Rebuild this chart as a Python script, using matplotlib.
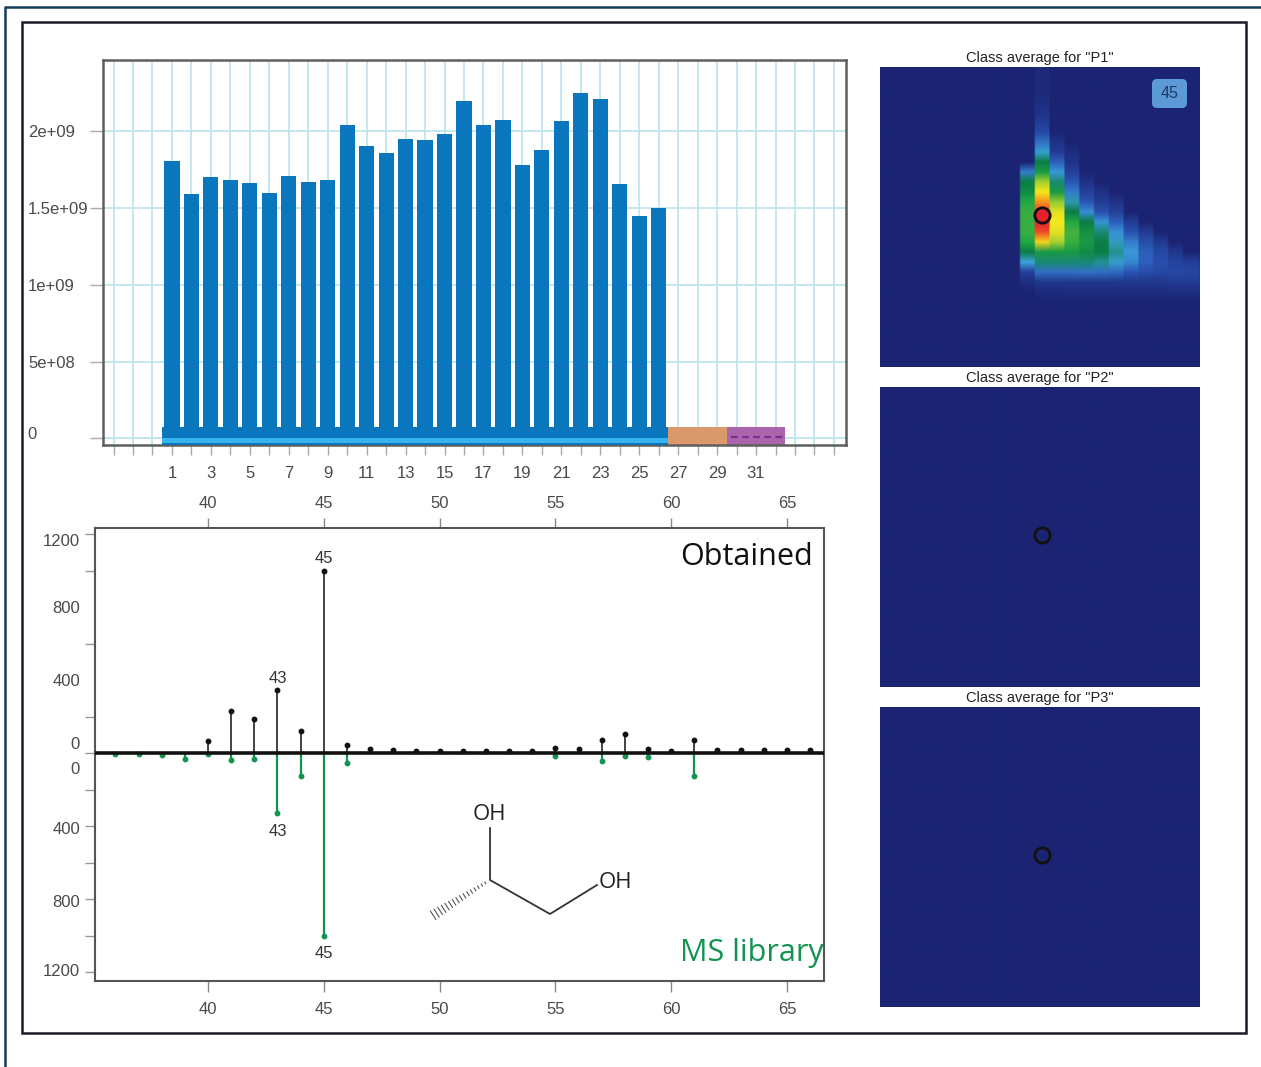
import numpy as np
import matplotlib
matplotlib.use('Agg')
import matplotlib.pyplot as plt
from matplotlib.colors import LinearSegmentedColormap
from matplotlib.lines import Line2D
from matplotlib.patches import FancyBboxPatch, Rectangle

W, H = 1261, 1067

# samples, top chart (units of 1e9)
samples = np.arange(1, 27)
intensity = [1.805, 1.59, 1.70, 1.68, 1.665, 1.595, 1.71, 1.67, 1.685, 2.04, 1.90, 1.86, 1.95,
             1.94, 1.98, 2.195, 2.04, 2.07, 1.78, 1.88, 2.065, 2.25, 2.21, 1.655, 1.45, 1.50]
group_edges = [0.5, 26.5, 29.5, 32.5]
group_colors = ['#0a76bd', '#d9996b', '#ab65ad']
y_ticks = [0, 5e8, 1e9, 1.5e9, 2e9]
y_tick_labels = ['', '5e+08', '1e+09', '1.5e+09', '2e+09']

# spectrum, m/z from 36 to 66
mz = np.arange(36, 67)
obtained = [0, 0, 0, 0, 65, 230, 186, 345, 120, 1000, 45, 20, 15, 12, 12, 12, 12, 12, 12, 28,
            22, 70, 105, 20, 12, 70, 14, 14, 14, 14, 14]
library = [5, 5, 10, 30, 5, 40, 35, 330, 125, 1000, 55, 0, 0, 0, 0, 0, 0, 0, 0, 15,
           0, 45, 15, 20, 0, 125, 0, 0, 0, 0, 0]

# class average P1, one list per column: (first row, values going down)
p1_columns = {
    10: (10, [.28, .45, .50, .60, .62, .62, .62, .60, .45, .35, .12, .04]),
    11: (0, [.03, .03, .03, .04, .06, .10, .15, .25, .36, .45, .55, .72, .80, .88, .97, 1.0, .95, .82, .55, .42, .25, .08, .03]),
    12: (7, [.06, .10, .22, .33, .42, .55, .70, .78, .80, .78, .72, .55, .42, .25, .08, .03]),
    13: (8, [.04, .06, .12, .20, .28, .38, .45, .60, .63, .62, .55, .42, .25, .08, .04]),
    14: (11, [.06, .12, .20, .31, .45, .52, .55, .50, .42, .26, .08, .04]),
    15: (12, [.06, .10, .18, .32, .42, .46, .45, .40, .25, .08, .04]),
    16: (13, [.06, .12, .22, .32, .37, .40, .36, .24, .08, .04]),
    17: (15, [.10, .18, .28, .33, .30, .20, .08, .04]),
    18: (16, [.10, .17, .22, .22, .17, .08, .04]),
    19: (17, [.09, .15, .17, .15, .08, .04]),
    20: (18, [.08, .13, .15, .10, .05]),
    21: (19, [.11, .14, .10, .05]),
    22: (19, [.08, .12, .09, .04]),
}
panel_names = ['P1', 'P2', 'P3']


def px_axes(left, top, right, bottom, **kw):
    return fig.add_axes([left / W, 1 - bottom / H, (right - left) / W, (bottom - top) / H], **kw)


plt.rcParams['font.family'] = ['Liberation Sans', 'DejaVu Sans']
fig = plt.figure(figsize=(W / 100, H / 100), dpi=100)
grey = '#4a4a4a'

# ---- sample bars
ax = px_axes(103, 60, 846, 445)
ax.bar(samples, np.array(intensity) * 1e9, width=0.78, color='#0a76bd', zorder=3)
for i, c in enumerate(group_colors):
    ax.bar((group_edges[i] + group_edges[i + 1]) / 2, 1.2e8, bottom=-4.5e7,
           width=group_edges[i + 1] - group_edges[i], color=c, zorder=2 if i else 3)
ax.bar(13.5, 3e7, bottom=-3e7, width=26, color='#36b4ee', zorder=4)
ax.hlines(0.8e7, 29.7, 32.4, color='#7a2f96', lw=1.6, ls=(0, (3, 2)), zorder=4)
ax.hlines(0, -2.6, 36, color='#bfe6ee', lw=1.2, zorder=1)
ax.set_xlim(-2.54, 35.62)
ax.set_ylim(-4.3e7, 2.463e9)
ax.set_xticks(np.arange(-2, 36))
ax.set_xticklabels([str(v) if 0 < v < 32 and v % 2 else '' for v in range(-2, 36)])
ax.set_yticks(y_ticks)
ax.set_yticklabels(y_tick_labels)
for lab in ax.get_yticklabels():
    lab.set_ha('left')
ax.grid(True, color='#bfe6ee', lw=1.3, zorder=0)
ax.set_axisbelow(True)
ax.tick_params(axis='x', length=7, width=1, color='#aaaaaa', labelcolor=grey, labelsize=12, pad=8)
ax.tick_params(axis='y', length=9.4, width=1, color='#aaaaaa', labelcolor=grey, labelsize=12, pad=44.6)
for s in ax.spines.values():
    s.set_color('#5e5e5e')
    s.set_linewidth(1.8)
ax.text(-6.44, 2.3e7, '0', color=grey, fontsize=12, ha='left', va='center', clip_on=False)

# ---- mirror spectrum
ax2 = px_axes(95, 528, 824, 981)
obt = np.array(obtained)
lib = np.array(library)
ax2.vlines(mz, 0, obt, color='#222222', lw=1.2, zorder=3)
ax2.vlines(mz, 0, -lib, color='#12934f', lw=1.6, zorder=2)
ax2.plot(mz[obt > 0], obt[obt > 0], 'o', color='#111111', ms=3.2, zorder=4)
ax2.plot(mz[lib > 0], -lib[lib > 0], 'o', color='#12934f', ms=3.2, zorder=2)
ax2.axhline(0, color='#111111', lw=2.6, zorder=5)
ax2.set_xlim(35.12, 66.6)
ax2.set_ylim(-1249, 1233)
ax2.set_xticks(np.arange(40, 70, 5))
ax2.tick_params(axis='x', length=8, width=1, color='#888888', labelcolor=grey, labelsize=12, pad=7)
sec = ax2.secondary_xaxis('top')
sec.set_xticks(np.arange(40, 70, 5))
sec.tick_params(axis='x', length=7, width=1, color='#888888', labelcolor=grey, labelsize=12, pad=5)
sec.spines['top'].set_visible(False)
ax2.set_yticks([1167, 800, 400, 55, -82, -410, -810, -1187])
ax2.set_yticklabels(['1200', '800', '400', '0', '0', '400', '800', '1200'])
ax2.set_yticks(np.arange(-1200, 1400, 200), minor=True)
ax2.tick_params(axis='y', which='major', length=0, labelcolor=grey, labelsize=12, pad=10.8)
ax2.tick_params(axis='y', which='minor', length=7, width=1, color='#999999')
for s in ax2.spines.values():
    s.set_color('#555555')
    s.set_linewidth(1.5)
for m, val, off in [(43, 345, 8.3), (45, 1000, 8.3), (43, -330, -13.4), (45, -1000, -12.7)]:
    ax2.annotate(str(m), (m, val), xytext=(0, off), textcoords='offset points', ha='center', va='center',
                 color='#333333', fontsize=12)
ax2.text(0.985, 0.935, 'Obtained', transform=ax2.transAxes, ha='right', va='center',
         family=['Open Sans', 'DejaVu Sans'], fontsize=22, color='#111111')
ax2.text(0.999, 0.062, 'MS library', transform=ax2.transAxes, ha='right', va='center',
         family=['Open Sans', 'DejaVu Sans'], fontsize=22, color='#12934f')

# ---- class average panels
cmap = LinearSegmentedColormap.from_list('msi', [
    (0.0, '#1b2473'), (0.2, '#2a55b5'), (0.35, '#3ba3dc'), (0.45, '#0a7d45'), (0.6, '#22a845'),
    (0.72, '#a6d030'), (0.8, '#f4e81c'), (0.9, '#f57f20'), (1.0, '#e4202c')])
tops = [67, 387, 707]
for k, name in enumerate(panel_names):
    axp = px_axes(880, tops[k], 1200, tops[k] + 300)
    grid = np.zeros((30, 23))
    if k == 0:
        for col, (start, vals) in p1_columns.items():
            grid[start:start + len(vals), col] = vals
    axp.imshow(np.repeat(grid, 8, axis=1), cmap=cmap, vmin=0, vmax=1, aspect='auto',
               interpolation='bilinear', extent=(-0.5, 22.5, 29.5, -0.5))
    axp.set_xlim(0.04, 21.66)
    axp.set_ylim(29.5, -0.5)
    axp.set_xticks([])
    axp.set_yticks([])
    for s in axp.spines.values():
        s.set_visible(False)
    axp.plot(11, 14.3, 'o', ms=11, mfc='#e8202c' if k == 0 else 'none', mec='#111111', mew=2)
    axp.text(0.5, 1.031, 'Class average for "%s"' % name, transform=axp.transAxes, ha='center', va='center',
             color='#222222', fontsize=10.5)

# ---- frames, badge and molecule, drawn in picture pixels
over = fig.add_axes([0, 0, 1, 1], zorder=10)
over.set_xlim(0, W)
over.set_ylim(H, 0)
over.axis('off')
over.patch.set_alpha(0)
over.add_patch(Rectangle((22, 22), 1224, 1011, fc='none', ec='#1a1a2a', lw=1.8))
over.add_line(Line2D([5, 5, W], [H, 7, 7], color='#123c58', lw=1.8))
over.add_patch(FancyBboxPatch((1157, 84), 25, 19, boxstyle='round,pad=5', fc='#5b9ad6', ec='none'))
over.text(1169.5, 93.5, '45', ha='center', va='center', color='#1c3a68', fontsize=11.5)
over.plot([490, 490, 550, 597], [828, 880, 914, 885], color='#333333', lw=1.3)
for t in np.arange(0.08, 1.0, 0.06):
    bx, by = 490 - 58 * t, 880 + 36 * t
    half = 0.5 + 4.5 * t
    over.plot([bx - 0.54 * half, bx + 0.54 * half], [by - 0.84 * half, by + 0.84 * half], color='#555555', lw=0.8)
over.text(489, 814, 'OH', family=['Open Sans', 'DejaVu Sans'], fontsize=16, color='#222222', ha='center', va='center')
over.text(615, 882, 'OH', family=['Open Sans', 'DejaVu Sans'], fontsize=16, color='#222222', ha='center', va='center')

fig.savefig('out.png', dpi=100)
